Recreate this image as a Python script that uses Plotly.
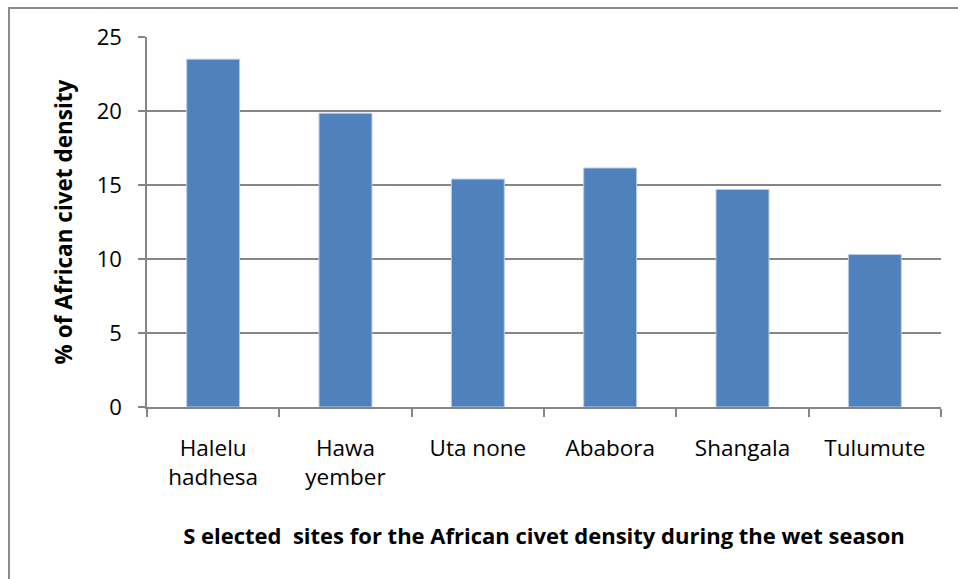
import plotly.graph_objects as go

sites = ["Halelu<br>hadhesa", "Hawa<br>yember", "Uta none", "Ababora", "Shangala", "Tulumute"]
density = [23.5, 19.85, 15.4, 16.15, 14.7, 10.3]
y_ticks = [0, 5, 10, 15, 20, 25]

W, H = 958, 579
L, R, T, B = 147, 17, 37, 172
pw, ph = W - L - R, H - T - B

fig = go.Figure(go.Bar(
    x=sites, y=density,
    marker=dict(color="#4F81BD", line=dict(color="#B9CDE5", width=1)),
    width=0.4,
))

gray = "#868686"
fig.update_layout(
    width=W, height=H,
    margin=dict(l=L, r=R, t=T, b=B),
    plot_bgcolor="white", paper_bgcolor="white",
    font=dict(family="Open Sans", color="black"),
    showlegend=False,
    xaxis=dict(
        type="category",
        tickson="boundaries",
        ticks="outside", ticklen=8, tickcolor=gray, tickwidth=1.5,
        showline=True, linecolor=gray, linewidth=1.5,
        showgrid=False,
        tickfont=dict(size=22.5),
        ticklabelstandoff=20,
        title=dict(text="S elected  sites for the African civet density during the wet season",
                   font=dict(size=22, family="Open Sans", weight="bold"), standoff=38),
    ),
    yaxis=dict(
        range=[0, 25],
        tickvals=y_ticks,
        ticks="outside", ticklen=7, tickcolor=gray, tickwidth=1.5,
        showline=True, linecolor=gray, linewidth=1.5,
        showgrid=True, gridcolor=gray, gridwidth=1.5,
        zeroline=False,
        tickfont=dict(size=22),
        ticklabelstandoff=12,
        title=dict(text="% of African civet density",
                   font=dict(size=22.5, family="Open Sans", weight="bold"), standoff=18),
    ),
    shapes=[dict(
        type="rect", xref="paper", yref="paper",
        x0=(9 - L) / pw, x1=(W + 20 - L) / pw,
        y0=-(H + 20 - T - ph) / ph, y1=(H - 8 - B) / ph,
        line=dict(color="#8C8C8C", width=2), fillcolor="rgba(0,0,0,0)", layer="below",
    )],
)

fig.write_html("out.html")
